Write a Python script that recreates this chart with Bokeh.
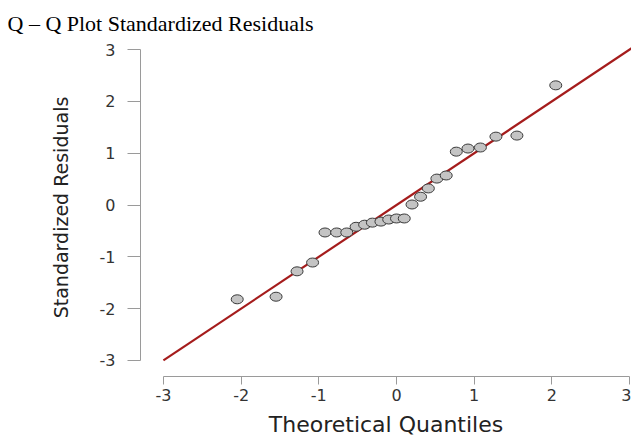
from bokeh.plotting import figure
from bokeh.models import Range1d, Title, FixedTicker
from bokeh.embed import file_html
from bokeh.resources import INLINE

# Data
theoretical_quantiles = [-2.05, -1.55, -1.28, -1.08, -0.92, -0.77, -0.64, -0.52, -0.41,
                         -0.31, -0.20, -0.10, 0.00, 0.10, 0.20, 0.31, 0.41, 0.52,
                         0.64, 0.77, 0.92, 1.08, 1.28, 1.55, 2.05]
standardized_residuals = [-1.82, -1.77, -1.28, -1.11, -0.53, -0.53, -0.53, -0.42, -0.38,
                          -0.34, -0.32, -0.28, -0.26, -0.26, 0.01, 0.16, 0.32, 0.51,
                          0.57, 1.03, 1.09, 1.11, 1.32, 1.34, 2.31]
ref_line_x = [-3, 3.3]
ref_line_y = [-3, 3.3]
tick_values = [-3, -2, -1, 0, 1, 2, 3]
tick_labels = {v: str(v) for v in tick_values}

title_text = "Q \u2013 Q Plot Standardized Residuals"
x_label = "Theoretical Quantiles"
y_label = "Standardized Residuals"

p = figure(width=631, height=439,
           x_range=Range1d(-3.295, 3.025), y_range=Range1d(-3.31, 3.214),
           output_backend="svg", toolbar_location=None,
           min_border_left=140, min_border_right=0,
           min_border_top=38, min_border_bottom=63)

p.title = Title(text=title_text, align="left", offset=-133,
                text_font="Liberation Serif", text_font_size="22px",
                text_font_style="normal", text_color="black", standoff=6)

p.grid.visible = False
p.outline_line_color = None
p.background_fill_color = "white"
p.border_fill_color = "white"

axis_grey = "#9a9a9a"
for ax in (p.xaxis[0], p.yaxis[0]):
    ax.bounds = (-3, 3)
    ax.ticker = FixedTicker(ticks=tick_values)
    ax.major_label_overrides = tick_labels
    ax.minor_tick_line_color = None
    ax.axis_line_color = axis_grey
    ax.major_tick_line_color = axis_grey
    ax.major_tick_in = 0
    ax.major_label_text_font = "DejaVu Sans"
    ax.major_label_text_font_size = "16px"
    ax.major_label_text_color = "#333333"
    ax.axis_label_text_font = "DejaVu Sans"
    ax.axis_label_text_font_style = "normal"
    ax.axis_label_text_color = "#222222"

p.xaxis.axis_label = x_label
p.xaxis.major_tick_out = 8
p.xaxis.major_label_standoff = 4
p.xaxis.axis_label_text_font_size = "22px"
p.xaxis.axis_label_standoff = 8

p.yaxis.axis_label = y_label
p.yaxis.major_tick_out = 13
p.yaxis.major_label_standoff = 12
p.yaxis.axis_label_text_font_size = "19px"
p.yaxis.axis_label_standoff = 25

p.line(ref_line_x, ref_line_y, line_color="#a51c1c", line_width=2.2)
p.ellipse(theoretical_quantiles, standardized_residuals, width=12, height=9,
          width_units="screen", height_units="screen",
          fill_color="#c4c4c4", line_color="#3a3a3a", line_width=1)

open("out.html", "w").write(file_html(p, INLINE))
